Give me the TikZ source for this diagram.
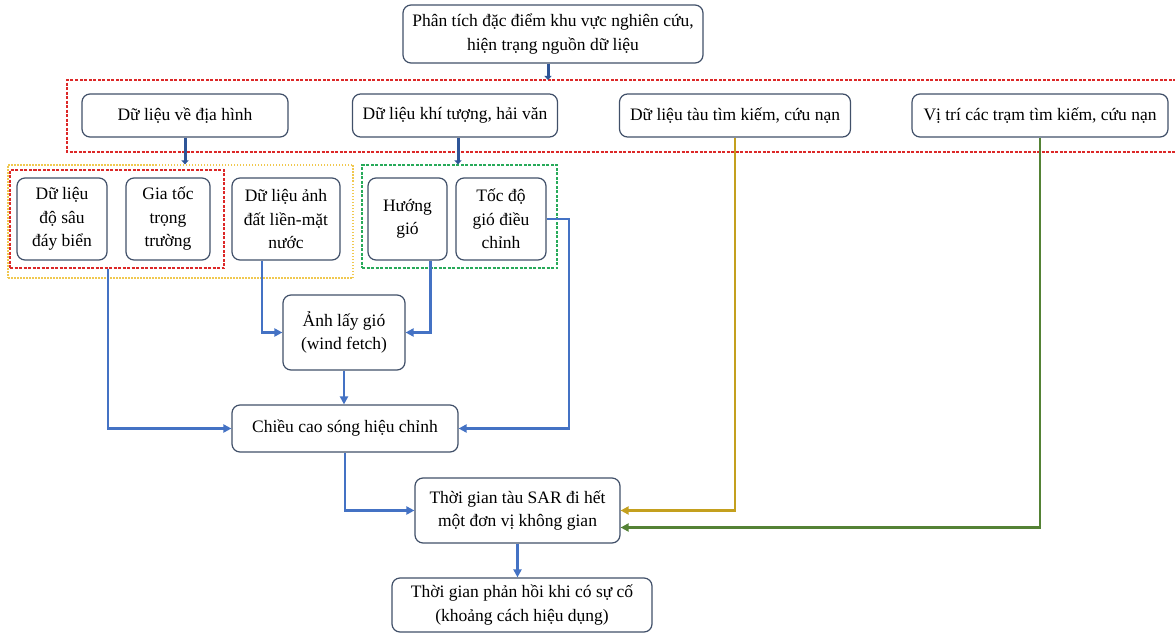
\documentclass[tikz,border=0pt]{standalone}
\usepackage{fontspec}
\setmainfont{Liberation Serif}
\usetikzlibrary{arrows.meta}
\definecolor{boxc}{RGB}{65,80,105}
\definecolor{linec}{RGB}{68,114,196}
\definecolor{darkc}{RGB}{47,85,151}
\definecolor{goldc}{RGB}{196,160,30}
\definecolor{greenc}{RGB}{84,130,53}
\definecolor{redd}{RGB}{220,40,40}
\definecolor{yeld}{RGB}{240,200,80}
\definecolor{grnd}{RGB}{40,170,90}
\begin{document}
\begin{tikzpicture}[x=1pt,y=-1pt,
  box/.style={draw=boxc, line width=1.2pt, rounded corners=8pt, fill=white, align=center, inner sep=0pt, font=\fontsize{17.5}{23.5}\selectfont},
  grpbox/.style={inner sep=0pt},
  conn/.style={draw=linec, line width=2.2pt, -{Triangle[length=8pt,width=8pt]}},
  thickarr/.style={draw=darkc, line width=3pt, -{Triangle[length=4pt,width=7pt]}},
  goldarr/.style={draw=goldc, line width=2.2pt, -{Triangle[length=8pt,width=8pt]}},
  greenarr/.style={draw=greenc, line width=2.2pt, -{Triangle[length=8pt,width=8pt]}},
  reddash/.style={draw=redd, line width=1.2pt, dash pattern=on 3pt off 1.5pt},
  yeldot/.style={draw=yeld, line width=1.2pt, dash pattern=on 1.5pt off 1.5pt},
  grndash/.style={draw=grnd, line width=1.2pt, dash pattern=on 3pt off 1.5pt}
]
\useasboundingbox (0,0) rectangle (1175,634);
\fill[white] (0,0) rectangle (1175,634);

% groups
\draw[reddash] (1176,80) -- (67,80) -- (67,152) -- (1176,152);
\coordinate (g1top) at (548,80);
\node[grpbox, yeldot, minimum width=345pt, minimum height=113pt] (grpY) at (180.5,221.5) {};
\node[grpbox, reddash, minimum width=214pt, minimum height=98pt] (grpA) at (117,219) {};
\node[grpbox, grndash, minimum width=195pt, minimum height=103pt] (grpG) at (459.5,216.5) {};

% nodes
\node[box, minimum width=300pt, minimum height=58pt] (top) at (553,34) {Phân tích đặc điểm khu vực nghiên cứu,\\hiện trạng nguồn dữ liệu};
\node[box, minimum width=206pt, minimum height=43pt] (dh) at (185,115.5) {Dữ liệu về địa hình};
\node[box, minimum width=205pt, minimum height=43pt] (kt) at (455,115.5) {Dữ liệu khí tượng, hải văn};
\node[box, minimum width=231pt, minimum height=43pt] (tau) at (735,115.5) {Dữ liệu tàu tìm kiếm, cứu nạn};
\node[box, minimum width=256pt, minimum height=43pt] (vitri) at (1040,115.5) {Vị trí các trạm tìm kiếm, cứu nạn};

\node[box, minimum width=90pt, minimum height=82pt] (sau) at (62,219) {Dữ liệu\\độ sâu\\đáy biển};
\node[box, minimum width=84pt, minimum height=82pt] (giatoc) at (168,219) {Gia tốc\\trọng\\trường};
\node[box, minimum width=108pt, minimum height=82pt] (anh) at (286,219) {Dữ liệu ảnh\\đất liền-mặt\\nước};
\node[box, minimum width=79pt, minimum height=82pt] (huong) at (407.5,219) {Hướng\\gió};
\node[box, minimum width=90pt, minimum height=82pt] (toc) at (501,219) {Tốc độ\\gió điều\\chỉnh};

\node[box, minimum width=122pt, minimum height=75pt] (wind) at (344,332.5) {Ảnh lấy gió\\(wind fetch)};
\node[box, minimum width=226pt, minimum height=47pt] (chieu) at (345,428.5) {Chiều cao sóng hiệu chỉnh};
\node[box, minimum width=205pt, minimum height=65pt] (sar) at (517.5,510.5) {Thời gian tàu SAR đi hết\\một đơn vị không gian};
\node[box, minimum width=260pt, minimum height=54pt] (phan) at (522,605) {Thời gian phản hồi khi có sự cố\\(khoảng cách hiệu dụng)};

% connectors
\draw[thickarr] (top.south -| g1top) -- (g1top);
\draw[thickarr] (dh.south) -- (dh.south |- grpY.north);
\draw[thickarr] ([xshift=3pt]kt.south) -- ([xshift=3pt]kt.south |- grpG.north);

\draw[conn] (grpA.south -| sau.east) |- (chieu.west);
\draw[conn] ([xshift=-24pt]anh.south) |- (wind.west);
\draw[conn] ([xshift=23pt]huong.south) |- (wind.east);
\draw[conn] (toc.east) -- ++(22,0) |- (chieu.east);
\draw[conn] (wind.south) -- (wind.south |- chieu.north);
\draw[conn] (chieu.south) |- (sar.west);
\draw[conn] (sar.south) -- (sar.south |- phan.north);

\draw[goldarr] (tau.south) |- (sar.east);
\draw[greenarr] (vitri.south) |- ([yshift=-17pt]sar.east);
\end{tikzpicture}
\end{document}
